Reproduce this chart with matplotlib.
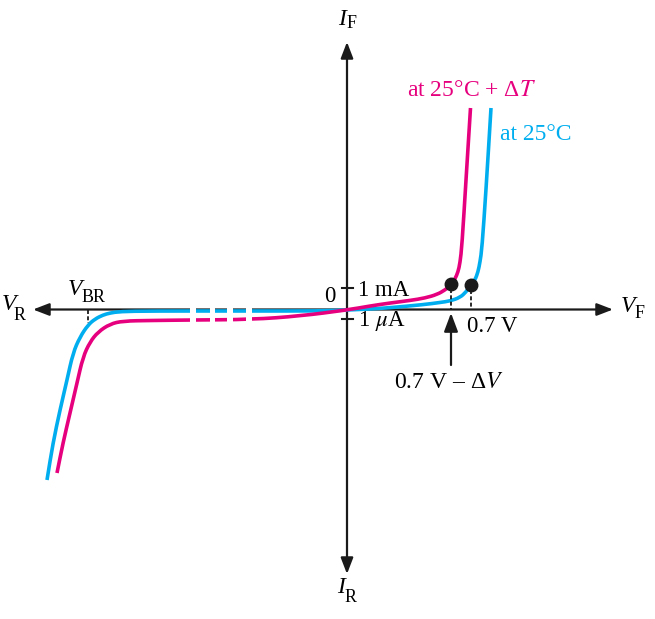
import matplotlib
matplotlib.use("Agg")
import matplotlib.pyplot as plt
from matplotlib.path import Path
from matplotlib.patches import PathPatch, FancyArrowPatch, Rectangle

plt.rcParams['font.family'] = ['Liberation Serif', 'DejaVu Serif']
plt.rcParams['mathtext.fontset'] = 'stix'

MAGENTA = '#E6007E'
CYAN = '#00AEEF'

# Diagram coordinates: x to the right of origin, y upward from origin (schematic units)
mag_x = [-290, -284, -277, -270, -264, -257, -249, -237, -224, -197, -157, -95, -47,
         0, 23, 43, 63, 78, 90, 98, 104, 108, 111, 113, 115, 119, 123.5]
mag_y = [-163.5, -133.5, -103.5, -73.5, -47.5, -32.5, -22.5, -14.5, -11.5, -11, -10.5, -10, -6.5,
         -0.5, 3.5, 6.5, 9, 11.5, 15, 19.5, 24.5, 30.5, 37.5, 46.5, 64.5, 129.5, 201.5]

blu_x = [-300, -294, -287, -280, -274, -267, -259, -252, -244, -237, -227, -197, -95, -27,
         0, 23, 43, 76, 93, 103, 113, 119, 124, 128, 131, 133, 135, 139, 144]
blu_y = [-170.5, -133.5, -100.5, -70.5, -43.5, -27.5, -15.5, -9.5, -5.5, -3.5, -2, -1.5, -1.5, -1.5,
         -0.5, 0.5, 1.8, 4.8, 7, 8.5, 12, 17.5, 24.5, 29.5, 37.5, 47.5, 61.5, 119.5, 201.5]

# break (gaps) in the reverse region
gap_x0 = [-157, -137, -120, -101]
gap_x1 = [-151, -132, -114, -95]

# operating points (knee dots)
dot_x = [104, 124]
dot_y = [25.5, 24.5]

# tick marks on vertical axis: 1 mA and 1 uA
tick_y = [21.5, -9.8]
tick_labels = ['1 mA', r'1 $\mu$A']


def smooth_path(xs, ys):
    pts = list(zip(xs, ys))
    verts = [pts[0]]
    codes = [Path.MOVETO]
    mid = lambda a, b: ((a[0] + b[0]) / 2, (a[1] + b[1]) / 2)
    verts.append(mid(pts[0], pts[1])); codes.append(Path.LINETO)
    for i in range(1, len(pts) - 1):
        verts += [pts[i], mid(pts[i], pts[i + 1])]
        codes += [Path.CURVE3, Path.CURVE3]
    verts.append(pts[-1]); codes.append(Path.LINETO)
    return Path(verts, codes)


fig = plt.figure(figsize=(6.55, 6.19), dpi=100)
ax = fig.add_axes([0, 0, 1, 1])
ax.set_xlim(-347, 308)
ax.set_ylim(-309.5, 309.5)
ax.axis('off')

def arrow(p0, p1, hl=0.65, hw=0.25, ms=15, lw=1.6, style='-|>'):
    a = FancyArrowPatch(p0, p1, arrowstyle=f'{style},head_length={hl},head_width={hw}',
                        mutation_scale=ms, lw=lw, color='#1a1a1a', shrinkA=0, shrinkB=0,
                        zorder=3)
    ax.add_patch(a)

arrow((-314, 0), (266, 0), style='<|-|>')
arrow((0, -264.5), (0, 267.5), style='<|-|>')

# curves
ax.add_patch(PathPatch(smooth_path(blu_x, blu_y), fill=False, ec=CYAN, lw=2.6,
                       capstyle='butt', joinstyle='round', zorder=4))
ax.add_patch(PathPatch(smooth_path(mag_x, mag_y), fill=False, ec=MAGENTA, lw=2.6,
                       capstyle='butt', joinstyle='round', zorder=4))

# break gaps
for a, b in zip(gap_x0, gap_x1):
    ax.add_patch(Rectangle((a, -17), b - a, 21, fc='white', ec='none', zorder=6))

# ticks
for ty in tick_y:
    ax.plot([-5, 6], [ty, ty], color='#1a1a1a', lw=1.5, zorder=5)
FS = 16.5
ax.text(11, tick_y[0] - 2, tick_labels[0], fontsize=FS, ha='left', va='center', zorder=7)
ax.text(11, tick_y[1] - 2, tick_labels[1], fontsize=FS, ha='left', va='center', zorder=7)
ax.text(-17, 13.5, '0', fontsize=FS, ha='center', va='center')

# dashed drop lines
for dx, dy in zip(dot_x, dot_y):
    ax.plot([dx, dx], [dy - 5, 0], color='#1a1a1a', lw=1.3, ls=(0, (2.2, 1.3)), zorder=5)
ax.plot([-259, -259], [0, -13.5], color='#1a1a1a', lw=1.3, ls=(0, (2.2, 1.3)), zorder=5)

# dots
ax.plot(dot_x, dot_y, 'o', color='#1a1a1a', ms=9, zorder=8)

# up arrow to 0.7V - dV
arrow((104, -55.5), (104, -3.5), hl=0.8, hw=0.3, ms=14, lw=1.6)

# labels
ax.text(145, -17.5, '0.7 V', fontsize=FS, ha='center', va='center')
ax.text(102, -73.5, r'0.7 V – Δ$V$', fontsize=17, ha='center', va='center')
ax.text(125, 219.5, r'at 25°C + Δ$T$', fontsize=17, ha='center', va='center', color=MAGENTA)
ax.text(189, 174.5, 'at 25°C', fontsize=17, ha='center', va='center', color=CYAN)

def sublabel(main, sub, x, y, sx, sy):
    ax.text(x, y, main, fontsize=17, style='italic', ha='center', va='baseline')
    ax.text(sx, sy, sub, fontsize=13, ha='left', va='baseline')

sublabel('I', 'F', -5, 284.5, 0, 281.5)
sublabel('I', 'R', -6, -283.5, -2, -292.5)
sublabel('V', 'F', 280.5, -2.5, 288, -8.5)
sublabel('V', 'R', -338.5, -0.5, -333, -10.5)
sublabel('V', 'BR', -272, 14.5, -265, 7.5)

fig.savefig('out.png', dpi=100)
